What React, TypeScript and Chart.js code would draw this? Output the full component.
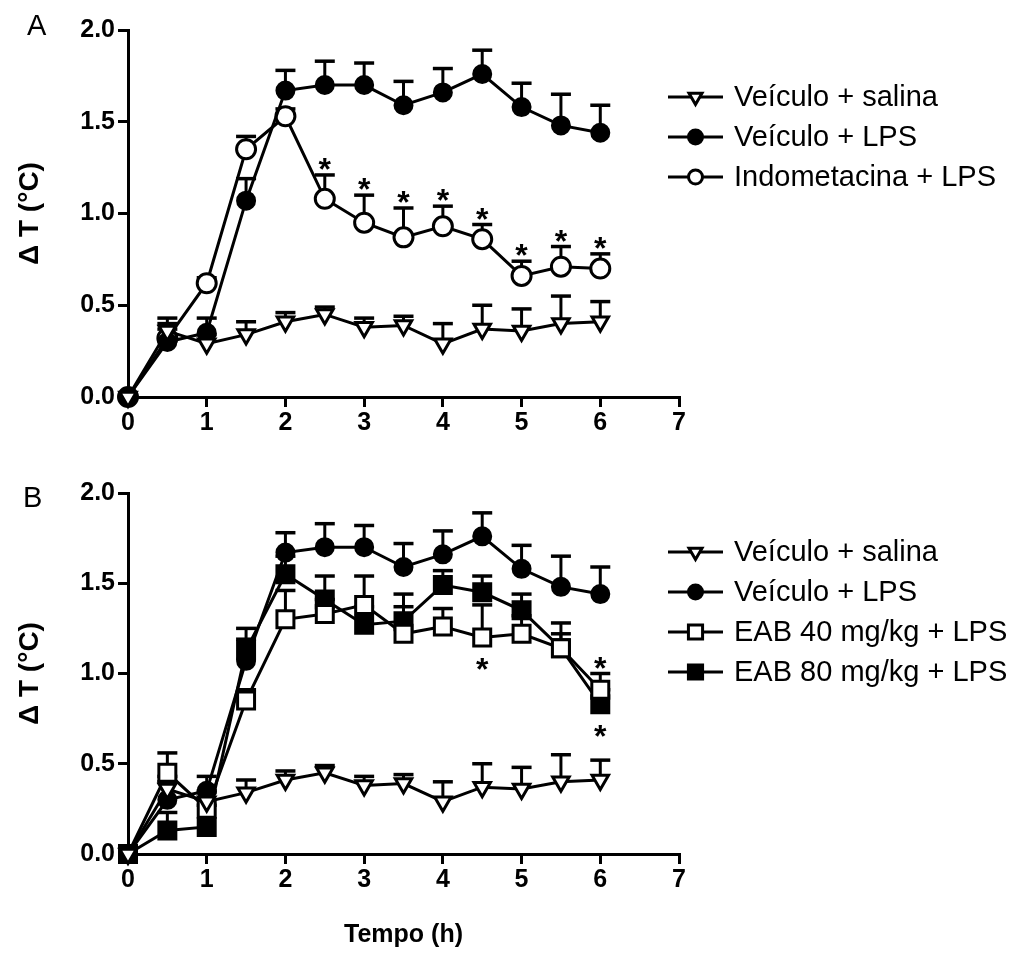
import React, { useEffect, useRef } from "react";
import { Chart, registerables } from "chart.js";
Chart.register(...registerables);

const FONT = '"Liberation Sans", Arial, Helvetica, sans-serif';

// ---------- data ----------
const times = [0, 0.5, 1, 1.5, 2, 2.5, 3, 3.5, 4, 4.5, 5, 5.5, 6];
const xTickValues = [0, 1, 2, 3, 4, 5, 6, 7];
const yTickValues = [0, 0.5, 1, 1.5, 2];

const salinaMean = [0, 0.36, 0.29, 0.34, 0.41, 0.45, 0.38, 0.39, 0.29, 0.37, 0.36, 0.40, 0.41];
const salinaErr = [0, 0.07, 0.05, 0.07, 0.05, 0.04, 0.05, 0.05, 0.11, 0.13, 0.12, 0.15, 0.11];
const lpsMean = [0, 0.30, 0.35, 1.07, 1.67, 1.70, 1.70, 1.59, 1.66, 1.76, 1.58, 1.48, 1.44];
const lpsErr = [0, 0.10, 0.08, 0.12, 0.11, 0.13, 0.12, 0.13, 0.13, 0.13, 0.13, 0.17, 0.15];
const indoMean = [0, 0.32, 0.62, 1.35, 1.53, 1.08, 0.95, 0.87, 0.93, 0.86, 0.66, 0.71, 0.70];
const indoErr = [0, 0.05, 0.03, 0.07, 0.04, 0.13, 0.15, 0.16, 0.11, 0.08, 0.08, 0.11, 0.08];
const eab40Mean = [0, 0.45, 0.25, 0.85, 1.30, 1.33, 1.38, 1.22, 1.26, 1.20, 1.22, 1.14, 0.91];
const eab40Err = [0, 0.11, 0.10, 0.06, 0.16, 0.08, 0.16, 0.15, 0.10, 0.18, 0.10, 0.14, 0.09];
const eab80Mean = [0, 0.13, 0.15, 1.13, 1.55, 1.41, 1.27, 1.29, 1.49, 1.45, 1.35, 1.14, 0.83];
const eab80Err = [0, 0.10, 0.12, 0.12, 0.10, 0.13, 0.10, 0.15, 0.08, 0.09, 0.09, 0.08, 0.08];

const starsAboveIndo = [2.5, 3, 3.5, 4, 4.5, 5, 5.5, 6];
const starsAboveEab40 = [6];
const starsBelowEab40 = [4.5];
const starsBelowEab80 = [6];

const labelSalina = "Veículo + salina";
const labelLps = "Veículo + LPS";
const labelIndo = "Indometacina + LPS";
const labelEab40 = "EAB 40 mg/kg + LPS";
const labelEab80 = "EAB 80 mg/kg + LPS";

type MarkStyle = "triangle" | "circle" | "rect";
interface Series {
  key: string;
  label: string;
  mean: number[];
  err: number[];
  style: MarkStyle;
  filled: boolean;
}

const sSalina: Series = { key: "salina", label: labelSalina, mean: salinaMean, err: salinaErr, style: "triangle", filled: false };
const sLps: Series = { key: "lps", label: labelLps, mean: lpsMean, err: lpsErr, style: "circle", filled: true };
const sIndo: Series = { key: "indo", label: labelIndo, mean: indoMean, err: indoErr, style: "circle", filled: false };
const sEab40: Series = { key: "eab40", label: labelEab40, mean: eab40Mean, err: eab40Err, style: "rect", filled: false };
const sEab80: Series = { key: "eab80", label: labelEab80, mean: eab80Mean, err: eab80Err, style: "rect", filled: true };

interface StarSpec {
  key: string;
  xs: number[];
  where: "above" | "below";
}

// ---------- drawing helpers ----------
function pointRadiusFor(s: Series) {
  if (s.style === "rect") return 12;
  if (s.style === "triangle") return 9.5;
  return s.filled ? 8.5 : 9.5;
}
function legendRadiusFor(s: Series) {
  if (s.style === "rect") return 10;
  if (s.style === "triangle") return 7.5;
  return 7;
}

function drawMarker(ctx: CanvasRenderingContext2D, style: MarkStyle, x: number, y: number, r: number, filled: boolean) {
  ctx.save();
  ctx.lineWidth = 3;
  ctx.strokeStyle = "#000";
  ctx.fillStyle = filled ? "#000" : "#fff";
  ctx.beginPath();
  if (style === "circle") {
    ctx.arc(x, y, r, 0, Math.PI * 2);
  } else if (style === "triangle") {
    const h = r * Math.sin(Math.PI / 3);
    ctx.moveTo(x, y + r);
    ctx.lineTo(x - h, y - r / 2);
    ctx.lineTo(x + h, y - r / 2);
    ctx.closePath();
  } else {
    const s = r * Math.SQRT1_2;
    ctx.rect(x - s, y - s, 2 * s, 2 * s);
  }
  ctx.fill();
  ctx.stroke();
  ctx.restore();
}

interface PanelOpts {
  series: Series[];
  stars: StarSpec[];
  letter: string;
  letterX: number;
  letterBaseline: number;
  height: number;
  padTop: number;
  xScaleHeight: number;
  showXTitle: boolean;
  legendY0: number;
}

function buildConfig(o: PanelOpts): any {
  const datasets = o.series.map((s) => ({
    label: s.label,
    seriesKey: s.key,
    errors: s.err,
    data: times.map((t, i) => ({ x: t, y: s.mean[i] })),
    borderColor: "#000",
    borderWidth: 3,
    backgroundColor: s.filled ? "#000" : "#fff",
    pointStyle: s.style,
    pointRotation: s.style === "triangle" ? 180 : 0,
    pointRadius: pointRadiusFor(s),
    pointHoverRadius: pointRadiusFor(s),
    pointBorderWidth: 3,
    pointBorderColor: "#000",
    pointBackgroundColor: s.filled ? "#000" : "#fff",
    tension: 0,
    fill: false,
    clip: false,
  }));

  const errorBars = {
    id: "errorBars",
    beforeDatasetsDraw(chart: any) {
      const ctx = chart.ctx as CanvasRenderingContext2D;
      const yS = chart.scales.y;
      ctx.save();
      ctx.strokeStyle = "#000";
      chart.data.datasets.forEach((ds: any, di: number) => {
        const meta = chart.getDatasetMeta(di);
        meta.data.forEach((pt: any, i: number) => {
          const e = ds.errors[i];
          if (!e) return;
          const top = yS.getPixelForValue(ds.data[i].y + e);
          ctx.beginPath();
          ctx.lineWidth = 3;
          ctx.moveTo(pt.x, pt.y);
          ctx.lineTo(pt.x, top);
          ctx.stroke();
          ctx.beginPath();
          ctx.lineWidth = 3.5;
          ctx.moveTo(pt.x - 10, top);
          ctx.lineTo(pt.x + 10, top);
          ctx.stroke();
        });
      });
      ctx.restore();
    },
  };

  const starsPlugin = {
    id: "stars",
    afterDatasetsDraw(chart: any) {
      const ctx = chart.ctx as CanvasRenderingContext2D;
      const xS = chart.scales.x;
      const yS = chart.scales.y;
      ctx.save();
      ctx.fillStyle = "#000";
      ctx.font = `bold 32px ${FONT}`;
      ctx.textAlign = "center";
      ctx.textBaseline = "alphabetic";
      const m = ctx.measureText("*");
      const half = (m.actualBoundingBoxAscent - m.actualBoundingBoxDescent) / 2;
      o.stars.forEach((st) => {
        const s = o.series.find((q) => q.key === st.key)!;
        st.xs.forEach((xv) => {
          const i = times.indexOf(xv);
          const px = xS.getPixelForValue(xv);
          let cy: number;
          if (st.where === "above") {
            cy = yS.getPixelForValue(s.mean[i] + s.err[i]) - 11;
          } else {
            cy = yS.getPixelForValue(s.mean[i]) + 27;
          }
          ctx.fillText("*", px, cy + half);
        });
      });
      ctx.restore();
    },
  };

  const legendPlugin = {
    id: "customLegend",
    afterDraw(chart: any) {
      const ctx = chart.ctx as CanvasRenderingContext2D;
      ctx.save();
      o.series.forEach((s, i) => {
        const y = o.legendY0 + i * 40;
        ctx.strokeStyle = "#000";
        ctx.lineWidth = 3;
        ctx.beginPath();
        ctx.moveTo(668, y);
        ctx.lineTo(723, y);
        ctx.stroke();
        drawMarker(ctx, s.style, 695.5, y, legendRadiusFor(s), s.filled);
        ctx.fillStyle = "#000";
        ctx.font = `29px ${FONT}`;
        ctx.textAlign = "left";
        ctx.textBaseline = "middle";
        ctx.fillText(s.label, 734, y + 1);
      });
      // panel letter
      ctx.font = `29px ${FONT}`;
      ctx.textAlign = "left";
      ctx.textBaseline = "alphabetic";
      ctx.fillText(o.letter, o.letterX, o.letterBaseline);
      ctx.restore();
    },
  };

  const tickFont = { family: FONT, size: 25, weight: "bold" as const };
  const xTitleFont = { family: FONT, size: 25, weight: "bold" as const };
  const yTitleFont = { family: FONT, size: 28, weight: "bold" as const };

  return {
    type: "line",
    data: { datasets },
    plugins: [errorBars, starsPlugin, legendPlugin],
    options: {
      animation: false,
      responsive: false,
      maintainAspectRatio: false,
      events: [],
      layout: { padding: { top: o.padTop, right: 334, left: 0, bottom: 0 } },
      plugins: { legend: { display: false }, tooltip: { enabled: false }, title: { display: false } },
      scales: {
        x: {
          type: "linear",
          min: 0,
          max: 7,
          afterBuildTicks: (s: any) => {
            s.ticks = xTickValues.map((v) => ({ value: v }));
          },
          afterFit: (s: any) => {
            s.height = o.xScaleHeight;
          },
          ticks: { autoSkip: false, maxRotation: 0, minRotation: 0, font: tickFont, color: "#000", padding: 1 },
          grid: { display: true, drawOnChartArea: false, drawTicks: true, tickLength: 10, lineWidth: 3, tickWidth: 3, tickColor: "#000", color: "#000" },
          border: { display: true, width: 3, color: "#000" },
          title: {
            display: o.showXTitle,
            text: "Tempo (h)",
            font: xTitleFont,
            color: "#000",
            padding: { top: 0, bottom: 28 },
          },
        },
        y: {
          type: "linear",
          min: 0,
          max: 2,
          afterBuildTicks: (s: any) => {
            s.ticks = yTickValues.map((v) => ({ value: v }));
          },
          afterFit: (s: any) => {
            s.width = 128;
          },
          ticks: {
            font: tickFont,
            color: "#000",
            padding: 3,
            callback: (v: any) => Number(v).toFixed(1),
          },
          grid: { display: true, drawOnChartArea: false, drawTicks: true, tickLength: 10, lineWidth: 3, tickWidth: 3, tickColor: "#000", color: "#000" },
          border: { display: true, width: 3, color: "#000" },
          title: {
            display: true,
            text: "Δ T (°C)",
            font: yTitleFont,
            color: "#000",
            padding: { top: 13, bottom: 0 },
          },
        },
      },
    },
  };
}

const panelA: PanelOpts = {
  series: [sSalina, sLps, sIndo],
  stars: [{ key: "indo", xs: starsAboveIndo, where: "above" }],
  letter: "A",
  letterX: 27,
  letterBaseline: 35,
  height: 460,
  padTop: 30,
  xScaleHeight: 63,
  showXTitle: false,
  legendY0: 97,
};

const panelB: PanelOpts = {
  series: [sSalina, sLps, sEab40, sEab80],
  stars: [
    { key: "eab40", xs: starsAboveEab40, where: "above" },
    { key: "eab40", xs: starsBelowEab40, where: "below" },
    { key: "eab80", xs: starsBelowEab80, where: "below" },
  ],
  letter: "B",
  letterX: 23,
  letterBaseline: 47,
  height: 518,
  padTop: 33,
  xScaleHeight: 124,
  showXTitle: true,
  legendY0: 92,
};

function Panel({ opts, top }: { opts: PanelOpts; top: number }) {
  const ref = useRef<HTMLCanvasElement | null>(null);
  useEffect(() => {
    if (!ref.current) return;
    const chart = new Chart(ref.current, buildConfig(opts));
    return () => chart.destroy();
  }, [opts]);
  return (
    <canvas
      ref={ref}
      width={1013}
      height={opts.height}
      style={{ position: "absolute", left: 0, top, width: 1013, height: opts.height, display: "block" }}
    />
  );
}

export default function App() {
  return (
    <div style={{ position: "absolute", left: 0, top: 0, width: 1013, height: 978, overflow: "hidden", background: "#fff" }}>
      <Panel opts={panelA} top={0} />
      <Panel opts={panelB} top={460} />
    </div>
  );
}
